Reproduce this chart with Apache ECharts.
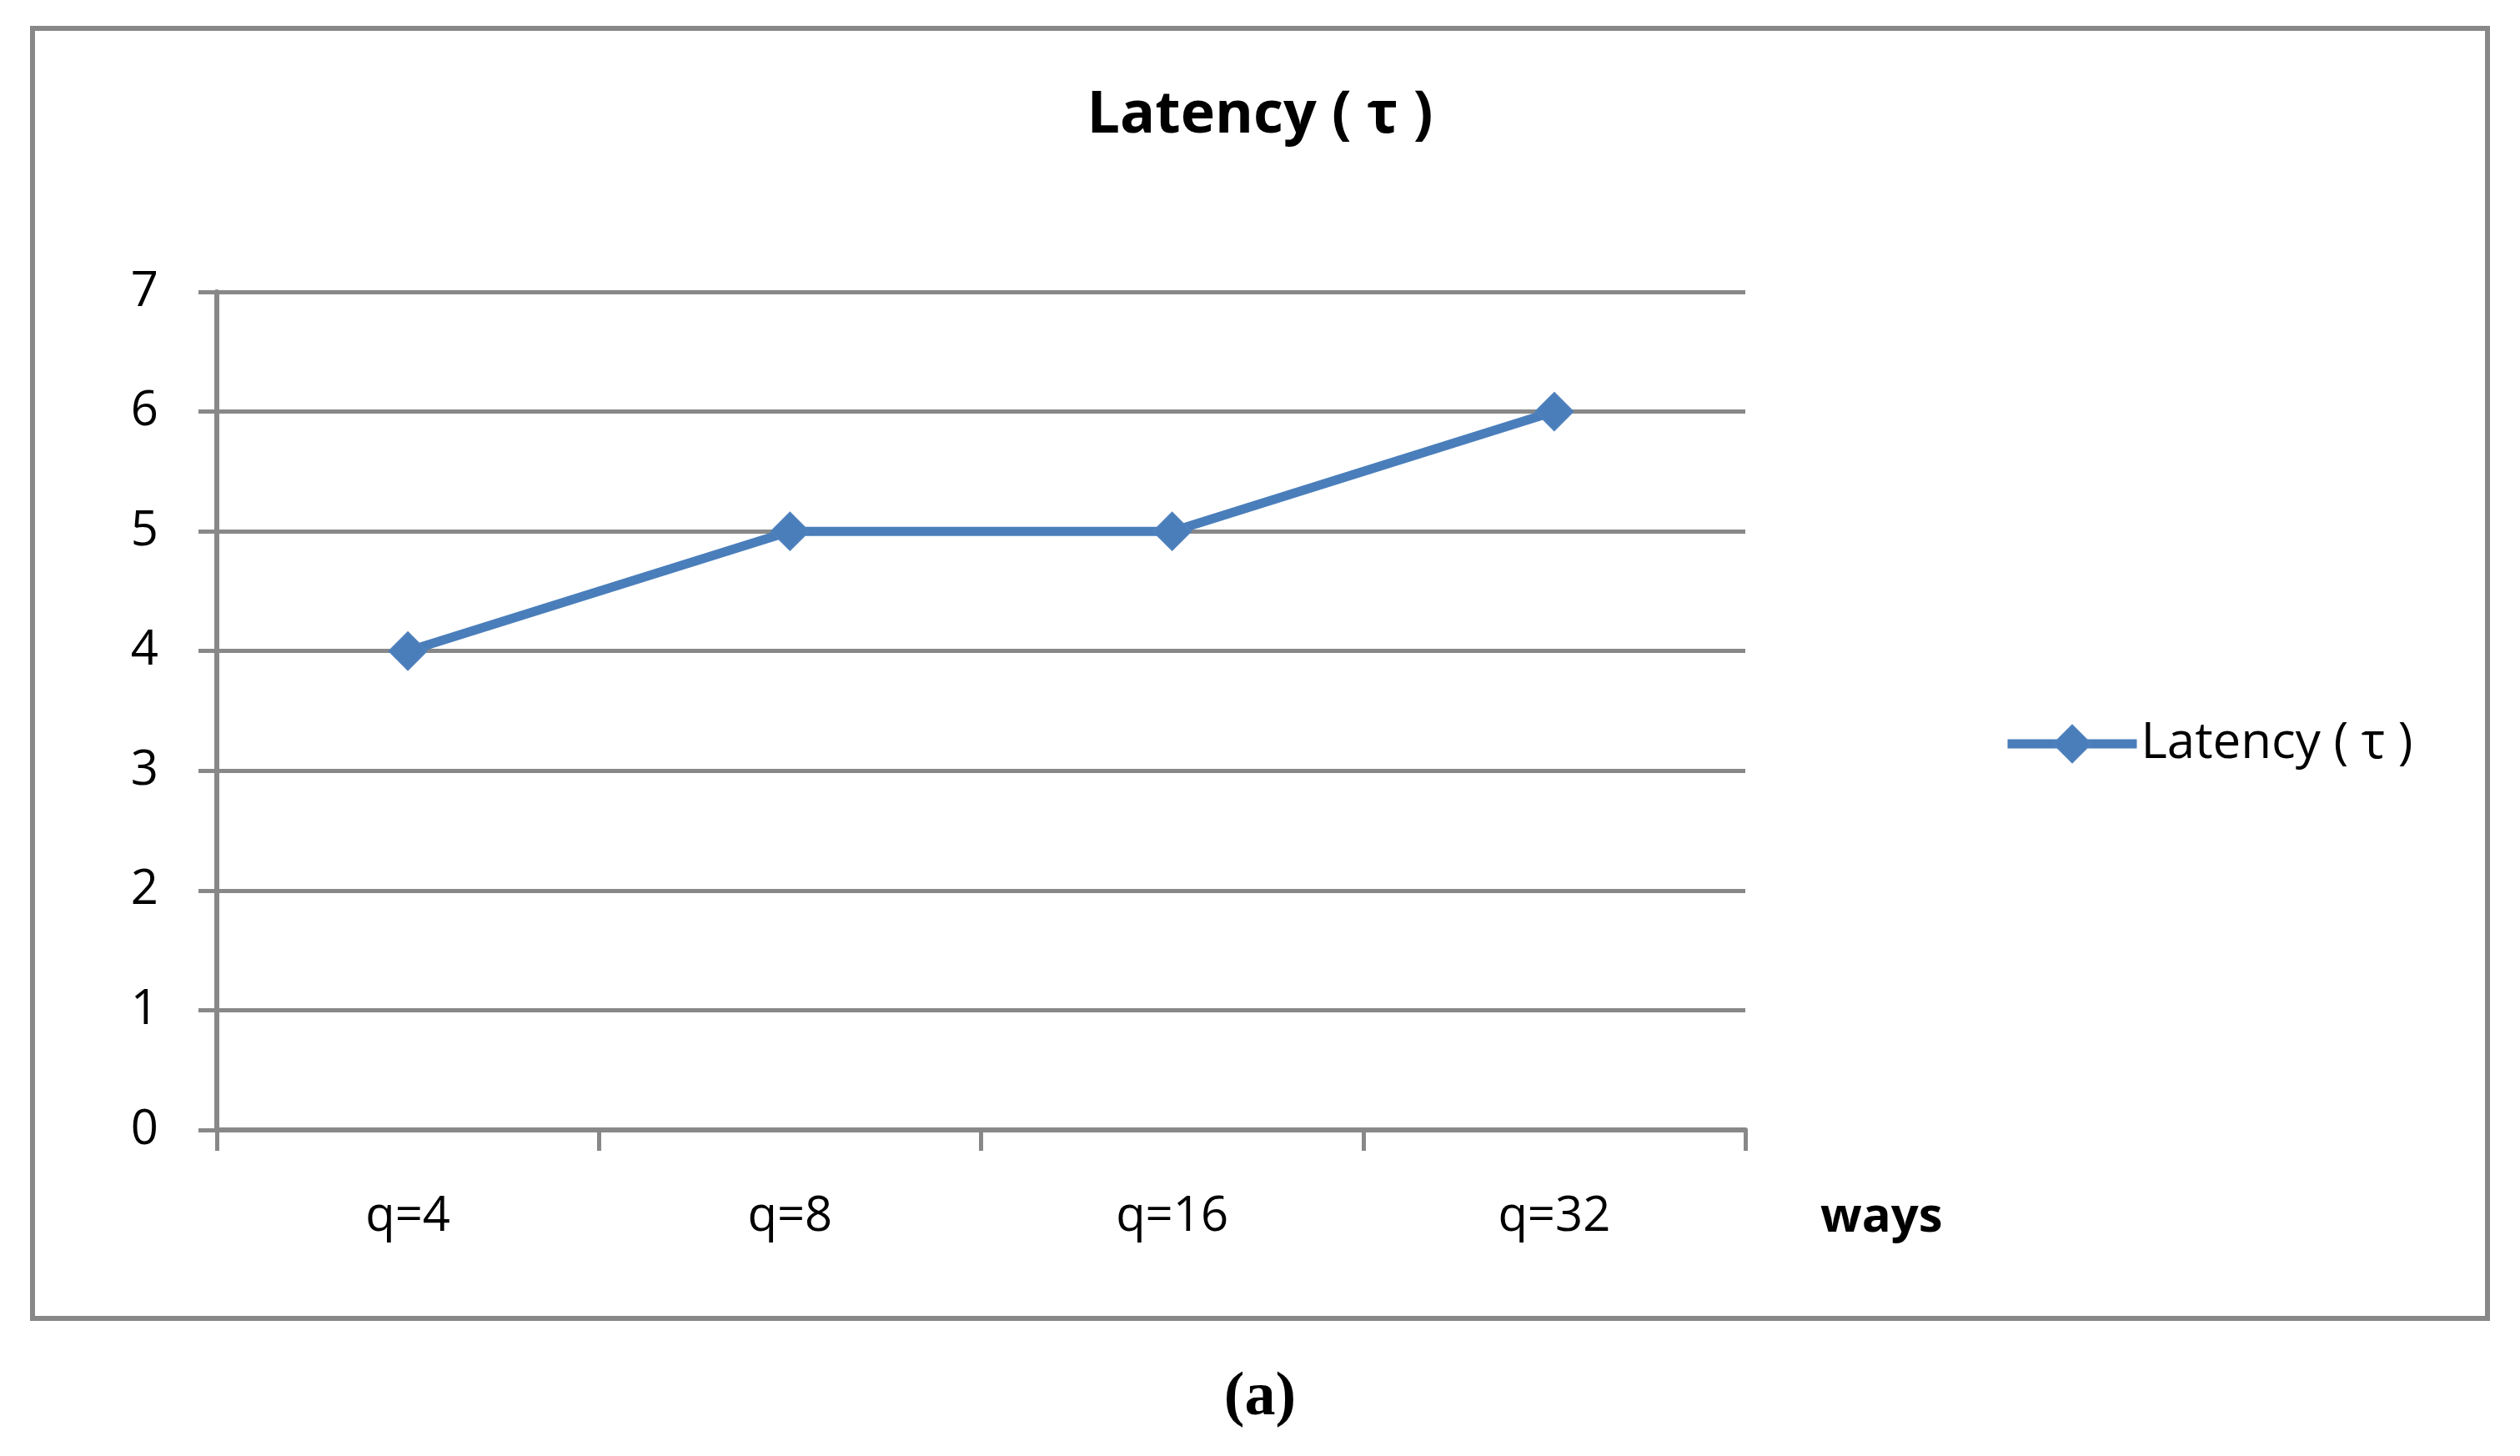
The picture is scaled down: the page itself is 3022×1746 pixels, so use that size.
<!DOCTYPE html>
<html>
<head>
<meta charset="utf-8">
<script src="https://cdn.jsdelivr.net/npm/echarts@6/dist/echarts.min.js"></script>
<style>
html,body{margin:0;padding:0;background:#fff;}
#c{width:3022px;height:1746px;}
</style>
</head>
<body>
<div id="c"></div>
<script>
const categories = ['q=4', 'q=8', 'q=16', 'q=32'];
const latency = [4, 5, 5, 6];
const seriesName = 'Latency ( \u03c4 )';
const titleText = 'Latency ( \u03c4 )';
const xName = 'ways';
const caption = '(a)';

const FONT = 'Open Sans';
const chart = echarts.init(document.getElementById('c'));
chart.setOption({
  backgroundColor: '#fff',
  animation: false,
  title: {
    text: titleText,
    left: 'center',
    top: 99,
    textStyle: { fontFamily: FONT, fontWeight: 'bold', fontSize: 70, color: '#000' }
  },
  legend: {
    left: 2397,
    top: 857,
    itemWidth: 155,
    itemHeight: 56,
    itemGap: 10,
    lineStyle: { width: 11, color: '#4a7ebb' },
    textStyle: { fontFamily: FONT, fontSize: 60, color: '#000' },
    data: [seriesName]
  },
  grid: { left: 260, right: 929, top: 350, bottom: 391 },
  xAxis: {
    type: 'category',
    data: categories,
    boundaryGap: true,
    name: xName,
    nameLocation: 'end',
    nameGap: 90,
    nameTextStyle: { fontFamily: FONT, fontWeight: 'bold', fontSize: 58, color: '#000', align: 'left', verticalAlign: 'top', padding: [76, 0, 0, 0] },
    axisLine: { lineStyle: { color: '#888', width: 6 } },
    axisTick: { show: true, length: 25, lineStyle: { color: '#888', width: 5 } },
    axisLabel: { fontFamily: FONT, fontSize: 58, color: '#000', margin: 75 },
    splitLine: { show: false }
  },
  yAxis: {
    type: 'value',
    min: 0, max: 7, interval: 1,
    axisLine: { show: true, lineStyle: { color: '#888', width: 6 } },
    axisTick: { show: true, length: 22, lineStyle: { color: '#888', width: 5 } },
    axisLabel: { fontFamily: FONT, fontSize: 58, color: '#000', margin: 70, padding: [8, 0, 0, 0] },
    splitLine: { show: true, lineStyle: { color: '#888', width: 5 } }
  },
  series: [{
    name: seriesName,
    type: 'line',
    data: latency,
    symbol: 'diamond',
    symbolSize: 45,
    lineStyle: { color: '#4a7ebb', width: 11 },
    itemStyle: { color: '#4a7ebb', borderColor: '#4f81bd', borderWidth: 2 }
  }],
  graphic: [
    { type: 'rect', shape: { x: 39, y: 34, width: 2944, height: 1547 }, style: { fill: 'none', stroke: '#888', lineWidth: 6 }, silent: true },
    { type: 'text', left: 'center', top: 1640, style: { text: caption, font: 'bold 74px "Liberation Serif"', fill: '#000' } }
  ]
});
</script>
</body>
</html>
